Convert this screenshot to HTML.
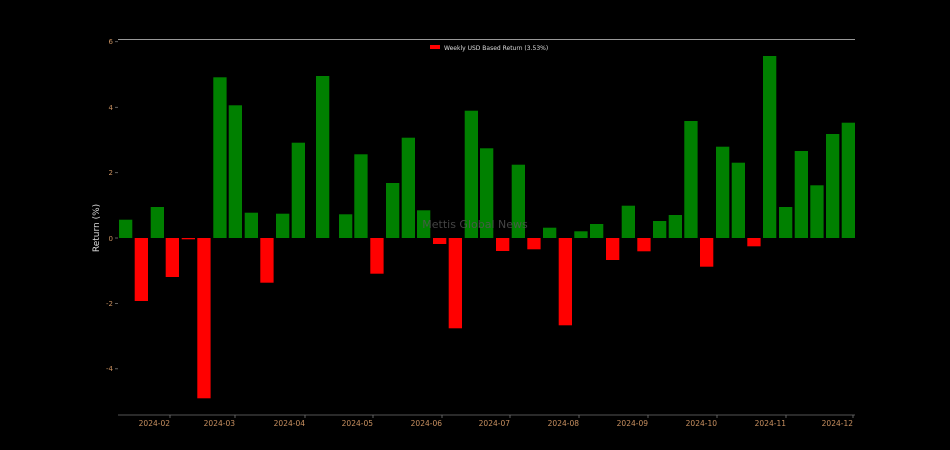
<!DOCTYPE html>
<html><head><meta charset="utf-8"><style>
html,body{margin:0;padding:0;background:#000;}
svg{display:block;font-family:"DejaVu Sans","Liberation Sans",sans-serif;}
</style></head><body>
<svg width="950" height="450" viewBox="0 0 950 450" xmlns="http://www.w3.org/2000/svg">
<rect width="950" height="450" fill="#000"/>
<line x1="118" y1="39.5" x2="855" y2="39.5" stroke="#999" stroke-width="1"/>
<line x1="118" y1="415" x2="855" y2="415" stroke="#555" stroke-width="1"/>
<g fill="#c89060" font-size="7" text-anchor="end">
<text x="113" y="44">6</text><text x="113" y="110">4</text><text x="113" y="175">2</text>
<text x="113" y="241">0</text><text x="113" y="306">-2</text><text x="113" y="371">-4</text>
</g>
<g stroke="#777" stroke-width="0.8">
<line x1="115" y1="41.7" x2="118" y2="41.7"/><line x1="115" y1="107.3" x2="118" y2="107.3"/>
<line x1="115" y1="172.7" x2="118" y2="172.7"/><line x1="115" y1="238" x2="118" y2="238"/>
<line x1="115" y1="303.4" x2="118" y2="303.4"/><line x1="115" y1="368.8" x2="118" y2="368.8"/>
<line x1="170" y1="415" x2="170" y2="418"/><line x1="235" y1="415" x2="235" y2="418"/>
<line x1="305" y1="415" x2="305" y2="418"/><line x1="373" y1="415" x2="373" y2="418"/>
<line x1="442" y1="415" x2="442" y2="418"/><line x1="510" y1="415" x2="510" y2="418"/>
<line x1="579" y1="415" x2="579" y2="418"/><line x1="648" y1="415" x2="648" y2="418"/>
<line x1="717" y1="415" x2="717" y2="418"/><line x1="786" y1="415" x2="786" y2="418"/>
<line x1="853" y1="415" x2="853" y2="418"/>
</g>
<g fill="#c89060" font-size="7.5" text-anchor="end">
<text x="170" y="426">2024-02</text><text x="235" y="426">2024-03</text><text x="305" y="426">2024-04</text>
<text x="373" y="426">2024-05</text><text x="442" y="426">2024-06</text><text x="510" y="426">2024-07</text>
<text x="579" y="426">2024-08</text><text x="648" y="426">2024-09</text><text x="717" y="426">2024-10</text>
<text x="786" y="426">2024-11</text><text x="853" y="426">2024-12</text>
</g>
<text x="99" y="228" fill="#ddd" font-size="9" text-anchor="middle" transform="rotate(-90 99 228)">Return (%)</text>
<g fill="#008000">
<rect x="119" y="219.7" width="13.3" height="18.3"/>
<rect x="150.7" y="207" width="13.3" height="31"/>
<rect x="213.3" y="77.3" width="13.3" height="160.7"/>
<rect x="228.7" y="105.3" width="13.3" height="132.7"/>
<rect x="244.7" y="212.7" width="13.3" height="25.3"/>
<rect x="276" y="213.7" width="13.3" height="24.3"/>
<rect x="291.7" y="142.7" width="13.3" height="95.3"/>
<rect x="316" y="76" width="13.3" height="162"/>
<rect x="339" y="214.3" width="13.3" height="23.7"/>
<rect x="354.3" y="154.3" width="13.3" height="83.7"/>
<rect x="386" y="183" width="13.3" height="55"/>
<rect x="401.7" y="137.7" width="13.3" height="100.3"/>
<rect x="417" y="210.3" width="13.3" height="27.7"/>
<rect x="464.7" y="110.7" width="13.3" height="127.3"/>
<rect x="480" y="148.3" width="13.3" height="89.7"/>
<rect x="511.7" y="164.7" width="13.3" height="73.3"/>
<rect x="543" y="227.7" width="13.3" height="10.3"/>
<rect x="574.3" y="231.3" width="13.3" height="6.7"/>
<rect x="590" y="224" width="13.3" height="14"/>
<rect x="621.7" y="205.7" width="13.3" height="32.3"/>
<rect x="653" y="221" width="13.3" height="17"/>
<rect x="668.7" y="215" width="13.3" height="23"/>
<rect x="684.3" y="121" width="13.3" height="117"/>
<rect x="716" y="146.7" width="13.3" height="91.3"/>
<rect x="731.7" y="162.7" width="13.3" height="75.3"/>
<rect x="763" y="56" width="13.3" height="182"/>
<rect x="779" y="207" width="13.3" height="31"/>
<rect x="794.7" y="151" width="13.3" height="87"/>
<rect x="810.3" y="185.3" width="13.3" height="52.7"/>
<rect x="826" y="134" width="13.3" height="104"/>
<rect x="841.7" y="122.7" width="13.3" height="115.3"/>
</g>
<g fill="#ff0000">
<rect x="134.7" y="238" width="13.3" height="63"/>
<rect x="165.7" y="238" width="13.3" height="39"/>
<rect x="181.7" y="238" width="13.3" height="1.3"/>
<rect x="197.3" y="238" width="13.3" height="160.3"/>
<rect x="260.3" y="238" width="13.3" height="44.7"/>
<rect x="370.3" y="238" width="13.3" height="35.7"/>
<rect x="433" y="238" width="13.3" height="6"/>
<rect x="448.7" y="238" width="13.3" height="90.3"/>
<rect x="496" y="238" width="13.3" height="13"/>
<rect x="527.3" y="238" width="13.3" height="11.3"/>
<rect x="558.7" y="238" width="13.3" height="87.3"/>
<rect x="606" y="238" width="13.3" height="22"/>
<rect x="637.3" y="238" width="13.3" height="13.3"/>
<rect x="700" y="238" width="13.3" height="28.7"/>
<rect x="747.3" y="238" width="13.3" height="8.3"/>
</g>
<text x="475" y="228" fill="#555" fill-opacity="0.8" font-size="11" text-anchor="middle">Mettis Global News</text>
<rect x="430" y="45" width="10" height="4" fill="#ff0000"/>
<text x="444" y="50" fill="#ddd" font-size="6">Weekly USD Based Return (3.53%)</text>
</svg>
</body></html>
